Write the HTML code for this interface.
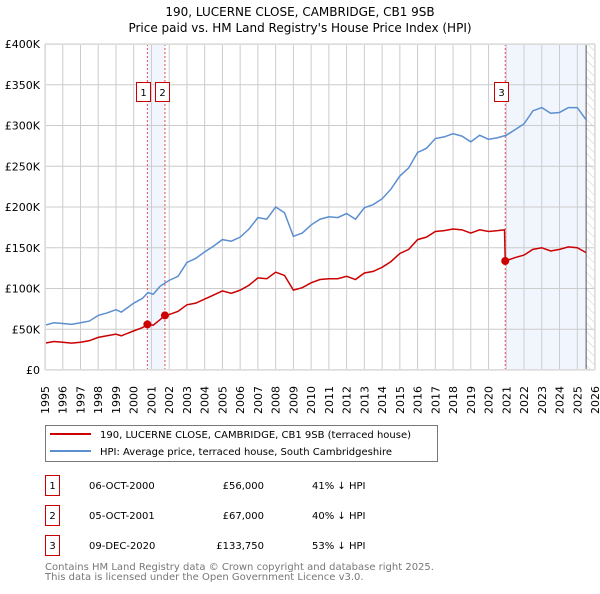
<!DOCTYPE html>
<html><head><meta charset="utf-8"><style>
body{margin:0;background:#fff;font-family:"DejaVu Sans","Liberation Sans",sans-serif;}
</style></head><body>
<svg width="600" height="590" xmlns="http://www.w3.org/2000/svg" style="font-family:'DejaVu Sans','Liberation Sans',sans-serif">
<text x="300" y="16" text-anchor="middle" font-size="12" fill="#000">190, LUCERNE CLOSE, CAMBRIDGE, CB1 9SB</text>
<text x="300" y="32" text-anchor="middle" font-size="12" fill="#000">Price paid vs. HM Land Registry's House Price Index (HPI)</text>
<defs><pattern id="hatch" width="6" height="6" patternUnits="userSpaceOnUse" patternTransform="rotate(-45)"><line x1="0" y1="0" x2="0" y2="6" stroke="#ccc" stroke-width="1"/></pattern></defs>
<g id="plot"></g>
<g id="legend">
<rect x="45.5" y="425.5" width="392" height="36" fill="#fff" stroke="#777"/>
<line x1="50" y1="434" x2="91" y2="434" stroke="#cc0000" stroke-width="2"/>
<text x="100" y="438" font-size="10">190, LUCERNE CLOSE, CAMBRIDGE, CB1 9SB (terraced house)</text>
<line x1="50" y1="451" x2="91" y2="451" stroke="#5b8fd0" stroke-width="2"/>
<text x="100" y="455" font-size="10">HPI: Average price, terraced house, South Cambridgeshire</text>
</g>
<g id="table" font-size="10">
<rect x="45.5" y="475.5" width="14" height="20" fill="#fff" stroke="#cc0000"/><text x="52.5" y="489" text-anchor="middle">1</text>
<text x="89" y="489">06-OCT-2000</text><text x="264" y="489" text-anchor="end">£56,000</text><text x="312" y="489">41% ↓ HPI</text>
<rect x="45.5" y="505.5" width="14" height="20" fill="#fff" stroke="#cc0000"/><text x="52.5" y="519" text-anchor="middle">2</text>
<text x="89" y="519">05-OCT-2001</text><text x="264" y="519" text-anchor="end">£67,000</text><text x="312" y="519">40% ↓ HPI</text>
<rect x="45.5" y="535.5" width="14" height="20" fill="#fff" stroke="#cc0000"/><text x="52.5" y="549" text-anchor="middle">3</text>
<text x="89" y="549">09-DEC-2020</text><text x="264" y="549" text-anchor="end">£133,750</text><text x="312" y="549">53% ↓ HPI</text>
</g>
<text x="45" y="570" font-size="10" fill="#777">Contains HM Land Registry data © Crown copyright and database right 2025.</text>
<text x="45" y="580" font-size="10" fill="#777">This data is licensed under the Open Government Licence v3.0.</text>
</svg>
<script>
const yTicks=[0,50,100,150,200,250,300,350,400];
const yTickLabels=["£0","£50K","£100K","£150K","£200K","£250K","£300K","£350K","£400K"];
const xYears=[1995,1996,1997,1998,1999,2000,2001,2002,2003,2004,2005,2006,2007,2008,2009,2010,2011,2012,2013,2014,2015,2016,2017,2018,2019,2020,2021,2022,2023,2024,2025,2026];
const hpiT=[1995,1995.5,1996,1996.5,1997,1997.5,1998,1998.5,1999,1999.3,2000,2000.5,2000.8,2001.1,2001.5,2002,2002.5,2003,2003.5,2004,2004.5,2005,2005.5,2006,2006.5,2007,2007.5,2008,2008.5,2009,2009.5,2010,2010.5,2011,2011.5,2012,2012.5,2013,2013.5,2014,2014.5,2015,2015.5,2016,2016.5,2017,2017.5,2018,2018.5,2019,2019.5,2020,2020.5,2021,2021.5,2022,2022.5,2023,2023.5,2024,2024.5,2025,2025.5];
const hpiV=[55,58,57,56,58,60,67,70,74,71,82,88,95,93,103,110,115,132,137,145,152,160,158,163,173,187,185,200,193,164,168,178,185,188,187,192,185,199,203,210,222,238,248,267,272,284,286,290,287,280,288,283,285,288,295,302,318,322,315,316,322,322,307];
const redT=[1995,1995.5,1996,1996.5,1997,1997.5,1998,1998.5,1999,1999.3,2000,2000.5,2000.77,2001.1,2001.5,2001.76,2002,2002.5,2003,2003.5,2004,2004.5,2005,2005.5,2006,2006.5,2007,2007.5,2008,2008.5,2009,2009.5,2010,2010.5,2011,2011.5,2012,2012.5,2013,2013.5,2014,2014.5,2015,2015.5,2016,2016.5,2017,2017.5,2018,2018.5,2019,2019.5,2020,2020.5,2020.9,2020.94,2021.5,2022,2022.5,2023,2023.5,2024,2024.5,2025,2025.5];
const redV=[33,35,34,33,34,36,40,42,44,42,48,52,56,55,62,67,68,72,80,82,87,92,97,94,98,104,113,112,120,116,98,101,107,111,112,112,115,111,119,121,126,133,143,148,160,163,170,171,173,172,168,172,170,171,172,133.75,138,141,148,150,146,148,151,150,144];
const saleT=[2000.77,2001.76,2020.94];
const saleV=[56,67,133.75];
const saleLabels=["1","2","3"];
const NS="http://www.w3.org/2000/svg";
const L=45,R=595,T=44,B=370;
const xs=t=>L+(t-1995)*(R-L)/31;
const ys=v=>B-v*(B-T)/400;
const g=document.getElementById('plot');
function mk(tag,attrs,parent){const e=document.createElementNS(NS,tag);for(const k in attrs)e.setAttribute(k,attrs[k]);(parent||g).appendChild(e);return e;}
let e=mk('rect',{x:xs(saleT[0]),y:T,width:xs(saleT[1])-xs(saleT[0]),height:B-T,fill:'#eef3fc',opacity:0.8});


e=mk('rect',{x:xs(saleT[2]),y:T,width:xs(2025.5)-xs(saleT[2]),height:B-T,fill:'#eef3fc',opacity:0.8});


e=mk('rect',{x:xs(2025.5),y:T,width:R-xs(2025.5),height:B-T,fill:'url(#hatch)'});


yTicks.forEach((v,i)=>{
 e=mk('line',{x1:L,x2:R,y1:ys(v),y2:ys(v),stroke:'#ccc'});
 
 
 e=mk('text',{x:L-5,y:ys(v)+4,'text-anchor':'end','font-size':11});
 e.textContent=yTickLabels[i];
 
 
});
xYears.forEach(yr=>{
 e=mk('line',{x1:xs(yr),x2:xs(yr),y1:T,y2:B,stroke:'#ccc'});
 
 
 const x=xs(yr)+4,y=B+44;
 e=mk('text',{x:x,y:y,'font-size':11,transform:`rotate(-90 ${x} ${y})`});
 e.textContent=yr;
 
 
});
e=mk('line',{x1:xs(2025.5),x2:xs(2025.5),y1:T,y2:B,stroke:'#555'});


saleT.forEach(t=>{
 e=mk('line',{x1:xs(t),x2:xs(t),y1:T,y2:B,stroke:'#e05050','stroke-dasharray':'2,2'});
 
 
});
e=mk('polyline',{points:hpiT.map((t,i)=>xs(t)+','+ys(hpiV[i])).join(' '),fill:'none',stroke:'#5b8fd0','stroke-width':1.5});


e=mk('polyline',{points:redT.map((t,i)=>xs(t)+','+ys(redV[i])).join(' '),fill:'none',stroke:'#cc0000','stroke-width':1.5});


saleT.forEach((t,i)=>{
 e=mk('circle',{cx:xs(t),cy:ys(saleV[i]),r:4,fill:'#cc0000'});
 
 
 const bx=xs(t)-(i===1?10:11);
 e=mk('rect',{x:Math.round(bx)+0.5,y:82.5,width:14,height:19,fill:'#fff',stroke:'#cc0000'});
 
 
 e=mk('text',{x:Math.round(bx)+7.5,y:96,'text-anchor':'middle','font-size':10});
 e.textContent=saleLabels[i];
 
 
});
e=mk('rect',{x:L+0.5,y:T+0.5,width:R-L-1,height:B-T-1,fill:'none',stroke:'#ddd'});


</script>
</body></html>
